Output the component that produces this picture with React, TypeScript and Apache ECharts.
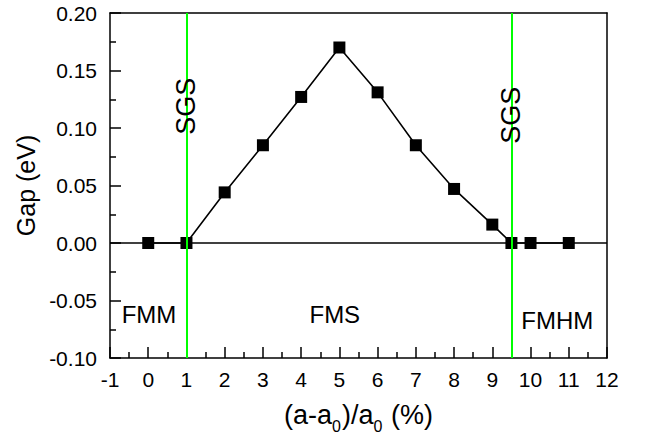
import React, { useEffect, useRef } from "react";
import * as echarts from "echarts";

const xValues = [0, 1, 2, 3, 4, 5, 6, 7, 8, 9, 9.5, 10, 11];
const gapValues = [0, 0, 0.044, 0.085, 0.127, 0.17, 0.131, 0.085, 0.047, 0.016, 0, 0, 0];

const boundaryX = [1, 9.5];
const boundaryLabelY = [0.119, 0.111];
const boundaryName = "SGS";

const phaseNames = ["FMM", "FMS", "FMHM"];
const phaseX = [0.02, 4.88, 10.7];
const phaseY = [-0.062, -0.062, -0.067];

const FONT = "'Liberation Sans', Arial, Helvetica, sans-serif";

export default function App() {
  const ref = useRef<HTMLDivElement>(null);

  useEffect(() => {
    if (!ref.current) return;
    const chart = echarts.init(ref.current, null, { renderer: "svg" });
    const points = xValues.map((x, i) => [x, gapValues[i]]);

    const axisLine = { show: true, onZero: false, lineStyle: { color: "#000", width: 1.5 } };

    chart.setOption({
      animation: false,
      backgroundColor: "#fff",
      grid: { left: 110, right: 45, top: 13, bottom: 87 },
      xAxis: [
        {
          type: "value",
          position: "bottom",
          min: -1,
          max: 12,
          interval: 1,
          axisLine,
          axisTick: { show: true, inside: true, length: 11, lineStyle: { color: "#000", width: 1.5 } },
          minorTick: { show: true, splitNumber: 2, length: 6, lineStyle: { color: "#000", width: 1.5 } },
          splitLine: { show: false },
          axisLabel: { color: "#000", fontSize: 21, fontFamily: FONT, margin: 11 },
          name: "{n|(a-a}{s|0}{n|)/a}{s|0}{n| (%)}",
          nameLocation: "middle",
          nameGap: 42,
          nameTextStyle: {
            rich: {
              n: { fontSize: 27, lineHeight: 30, fontFamily: FONT, color: "#000" },
              s: { fontSize: 16, lineHeight: 16, padding: [22, 1, 0, 0], fontFamily: FONT, color: "#000" },
            },
          },
        },
        {
          type: "value",
          position: "top",
          min: -1,
          max: 12,
          interval: 1,
          axisLine,
          axisTick: { show: false },
          axisLabel: { show: false },
          splitLine: { show: false },
        },
      ],
      yAxis: [
        {
          type: "value",
          position: "left",
          min: -0.1,
          max: 0.2,
          interval: 0.05,
          axisLine,
          axisTick: { show: true, inside: true, length: 11, lineStyle: { color: "#000", width: 1.5 } },
          minorTick: { show: true, splitNumber: 2, length: 6, lineStyle: { color: "#000", width: 1.5 } },
          splitLine: { show: false },
          axisLabel: {
            color: "#000",
            fontSize: 21,
            fontFamily: FONT,
            margin: 13,
            formatter: (v: number) => v.toFixed(2),
          },
          name: "Gap (eV)",
          nameLocation: "middle",
          nameGap: 67,
          nameRotate: 90,
          nameTextStyle: { color: "#000", fontSize: 25, fontFamily: FONT },
        },
        {
          type: "value",
          position: "right",
          min: -0.1,
          max: 0.2,
          interval: 0.05,
          axisLine,
          axisTick: { show: false },
          axisLabel: { show: false },
          splitLine: { show: false },
        },
      ],
      series: [
        {
          type: "line",
          data: points,
          symbol: "rect",
          symbolSize: 12,
          itemStyle: { color: "#000" },
          lineStyle: { color: "#000", width: 1.6 },
          z: 3,
          markLine: {
            silent: true,
            symbol: "none",
            label: { show: false },
            lineStyle: { color: "#000", width: 1.6, type: "solid" },
            data: [{ yAxis: 0 }],
          },
        },
        {
          type: "line",
          data: [],
          z: 6,
          markLine: {
            silent: true,
            symbol: "none",
            label: { show: false },
            lineStyle: { color: "#00ff00", width: 2, type: "solid" },
            data: boundaryX.map((x) => ({ xAxis: x })),
            z: 6,
          },
        },
      ],
    });

    const toPx = (x: number, y: number) =>
      chart.convertToPixel({ xAxisIndex: 0, yAxisIndex: 0 }, [x, y]) as number[];

    const graphics: any[] = [];
    boundaryX.forEach((x, i) => {
      const p = toPx(x, boundaryLabelY[i]);
      graphics.push({
        type: "text",
        x: p[0],
        y: p[1],
        rotation: Math.PI / 2,
        z: 10,
        style: {
          text: boundaryName,
          fill: "#000",
          fontSize: 27,
          fontFamily: FONT,
          align: "center",
          verticalAlign: "middle",
        },
      });
    });
    phaseNames.forEach((name, i) => {
      const p = toPx(phaseX[i], phaseY[i]);
      graphics.push({
        type: "text",
        x: p[0],
        y: p[1],
        z: 10,
        style: {
          text: name,
          fill: "#000",
          fontSize: 24,
          fontFamily: FONT,
          align: "center",
          verticalAlign: "middle",
        },
      });
    });
    chart.setOption({ graphic: graphics });

    return () => chart.dispose();
  }, []);

  return (
    <div
      ref={ref}
      style={{ position: "fixed", left: 0, top: 0, width: 652, height: 445, background: "#fff" }}
    />
  );
}
